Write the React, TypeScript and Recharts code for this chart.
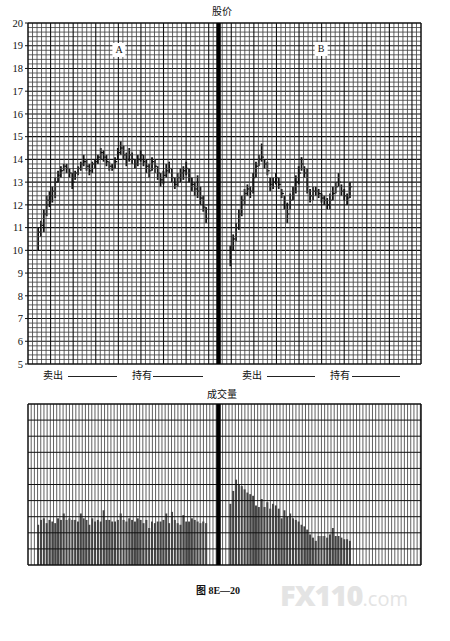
import React from "react";
import { ComposedChart, Bar, XAxis, YAxis, ReferenceLine } from "recharts";

// ---- data ----
const priceTicks = [5, 6, 7, 8, 9, 10, 11, 12, 13, 14, 15, 16, 17, 18, 19, 20];

const highA = [11.0, 11.3, 11.8, 12.4, 12.6, 12.8, 13.2, 13.5, 13.7, 13.8, 13.8, 13.6, 13.4, 13.5, 13.7, 13.9, 14.2, 14.0, 13.8, 13.9, 14.0, 14.2, 14.5, 14.4, 14.2, 13.9, 13.8, 14.1, 14.5, 14.8, 14.6, 14.3, 14.5, 14.3, 14.0, 14.2, 14.4, 14.2, 14.0, 13.8, 14.1, 14.0, 13.7, 13.4, 13.5, 13.8, 13.9, 13.6, 13.2, 13.4, 13.6, 13.7, 13.9, 13.6, 13.2, 13.0, 13.3, 12.8, 12.4, 11.9];
const lowA = [10.0, 10.6, 10.8, 11.5, 11.9, 12.1, 12.3, 13.0, 13.2, 13.5, 13.4, 13.2, 12.7, 13.1, 13.3, 13.5, 13.7, 13.5, 13.3, 13.4, 13.6, 13.8, 14.0, 13.9, 13.7, 13.5, 13.5, 13.6, 14.0, 14.2, 14.0, 13.7, 13.9, 13.8, 13.6, 13.7, 13.9, 13.7, 13.4, 13.2, 13.5, 13.4, 13.1, 12.8, 12.9, 13.2, 13.4, 13.0, 12.7, 12.8, 13.0, 13.1, 13.3, 13.0, 12.6, 12.4, 12.3, 12.0, 11.7, 11.2];
const closeA = [10.8, 11.1, 11.6, 12.2, 12.4, 12.6, 13.0, 13.3, 13.5, 13.7, 13.6, 13.4, 13.0, 13.4, 13.6, 13.8, 13.9, 13.7, 13.5, 13.8, 13.9, 14.1, 14.3, 14.1, 13.9, 13.7, 13.6, 13.9, 14.3, 14.5, 14.2, 14.0, 14.2, 14.0, 13.8, 14.0, 14.2, 13.9, 13.7, 13.5, 13.9, 13.7, 13.4, 13.1, 13.3, 13.5, 13.6, 13.2, 12.9, 13.2, 13.4, 13.5, 13.6, 13.2, 12.9, 12.7, 12.6, 12.3, 11.9, 11.4];

const highB = [10.2, 10.7, 11.2, 11.8, 12.4, 12.7, 12.9, 12.8, 13.4, 13.9, 14.2, 14.7, 14.0, 13.9, 13.2, 13.2, 13.4, 13.2, 12.7, 12.4, 12.1, 12.5, 12.8, 13.3, 13.7, 14.1, 13.7, 13.6, 12.7, 12.8, 12.8, 12.7, 12.5, 12.4, 12.3, 12.5, 12.8, 13.0, 13.4, 12.9, 12.7, 12.5, 13.0];
const lowB = [9.3, 10.0, 10.4, 10.9, 11.5, 12.0, 12.4, 12.3, 12.5, 13.2, 13.7, 13.9, 13.6, 13.3, 12.6, 12.7, 12.9, 12.7, 12.3, 11.8, 11.2, 11.8, 12.2, 12.5, 12.9, 13.5, 13.2, 12.5, 12.1, 12.2, 12.4, 12.3, 12.1, 12.0, 11.8, 11.8, 12.2, 12.5, 12.8, 12.4, 12.2, 12.0, 12.3];
const closeB = [10.0, 10.5, 11.0, 11.6, 12.2, 12.5, 12.7, 12.6, 13.2, 13.7, 14.0, 14.1, 13.8, 13.5, 12.9, 13.0, 13.2, 12.9, 12.5, 12.0, 11.6, 12.2, 12.6, 13.0, 13.4, 13.8, 13.4, 12.8, 12.4, 12.6, 12.6, 12.5, 12.3, 12.2, 12.0, 12.2, 12.5, 12.8, 13.0, 12.6, 12.4, 12.3, 12.8];

const volumeA = [2.5, 2.8, 2.9, 2.6, 2.8, 2.7, 2.6, 2.9, 2.8, 3.2, 2.8, 2.9, 2.8, 2.8, 2.7, 3.2, 2.9, 2.8, 2.5, 2.9, 2.7, 2.8, 2.7, 3.4, 2.8, 2.8, 2.7, 2.7, 2.8, 3.2, 2.8, 2.7, 2.9, 2.8, 2.7, 2.9, 2.8, 2.6, 2.8, 2.3, 2.7, 2.6, 2.7, 2.7, 2.8, 3.2, 2.6, 3.3, 2.8, 2.6, 2.5, 3.1, 2.7, 2.7, 2.9, 2.8, 2.7, 2.6, 2.7, 2.6];
const volumeB = [3.8, 4.6, 5.3, 5.0, 4.9, 4.7, 4.5, 4.4, 4.3, 3.7, 3.6, 4.1, 3.6, 3.9, 3.5, 3.8, 3.7, 3.5, 2.9, 3.4, 3.0, 3.2, 2.9, 2.8, 2.7, 2.5, 2.4, 2.2, 1.9, 1.7, 1.5, 1.8, 1.8, 1.8, 1.7, 1.9, 2.3, 1.8, 1.8, 1.7, 1.6, 1.6, 1.5];

const startA = 3.7;
const startB = 71.2;
const dividerDay = 66.9;
const dayMax = 138;

// ---- tables built from the arrays ----
const priceRows = [
  ...highA.map((h, i) => ({ day: startA + i, high: h, low: lowA[i], close: closeA[i] })),
  ...highB.map((h, i) => ({ day: startB + i, high: h, low: lowB[i], close: closeB[i] })),
];
const volumeRows = [
  ...volumeA.map((v, i) => ({ day: startA + i, vol: v })),
  ...volumeB.map((v, i) => ({ day: startB + i, vol: v })),
];

// grid helpers (paper grid, not data)
const priceHLines: number[] = [];
for (let k = 1; k < 75; k++) priceHLines.push(5 + k * 0.2);
const priceVLines: number[] = [];
for (let k = 1; k < 87; k++) priceVLines.push((k * dayMax) / 87);
const volVLines: number[] = [];
for (let k = 1; k * 1.12 < dayMax; k++) volVLines.push(k * 1.12);
const volHLines = [1, 2, 3, 4, 5, 6, 7, 8, 9];

const PriceBarShape = (props: any) => {
  const { x, y, width, height, payload } = props;
  if (x == null || y == null || !payload) return null;
  const cx = x + width / 2;
  const top = Math.min(y, y + height);
  const h = Math.abs(height);
  const span = payload.high - payload.low;
  const cy = top + (span > 0 ? (payload.high - payload.close) / span : 0.5) * h;
  return (
    <g>
      <line x1={cx} x2={cx} y1={top} y2={top + h} stroke="#111" strokeWidth={1.8} />
      <line x1={cx} x2={cx + 2.3} y1={cy} y2={cy} stroke="#111" strokeWidth={1.3} />
    </g>
  );
};

const cjk = "'Noto Sans CJK SC', 'Noto Sans', sans-serif";
const serif = "'Liberation Serif', 'DejaVu Serif', serif";

const Txt = ({ x, y, children, size = 10, bold = false, color = "#111", font = cjk, bg }: any) => (
  <div
    style={{
      position: "absolute",
      left: x,
      top: y,
      transform: "translate(-50%, -50%)",
      fontFamily: font,
      fontSize: size,
      fontWeight: bold ? 700 : 400,
      color,
      lineHeight: 1,
      whiteSpace: "nowrap",
      background: bg,
      padding: bg ? "2px 3px" : 0,
    }}
  >
    {children}
  </div>
);

const Blank = ({ x1, x2, y }: any) => (
  <div style={{ position: "absolute", left: x1, top: y, width: x2 - x1, borderBottom: "1px solid #222" }} />
);

export default function App() {
  return (
    <div style={{ position: "relative", width: 450, height: 641, background: "#fff", overflow: "hidden" }}>
      <style>{"body{margin:0;background:#fff}"}</style>

      <div style={{ position: "absolute", left: 0, top: 0 }}>
        <ComposedChart width={450} height={380} data={priceRows} margin={{ top: 23, right: 29, bottom: 16, left: 0 }}>
          <XAxis type="number" dataKey="day" domain={[0, dayMax]} hide allowDataOverflow />
          <YAxis
            type="number"
            domain={[5, 20]}
            ticks={priceTicks}
            interval={0}
            width={28}
            tickSize={3}
            tickMargin={2}
            axisLine={false}
            tickLine={{ stroke: "#111" }}
            tick={{ fontFamily: serif, fontSize: 10.5, fill: "#111" }}
            allowDataOverflow
          />
          {priceHLines.map((v, k) => (
            <ReferenceLine
              key={"h" + k}
              y={v}
              stroke={(k + 1) % 5 === 0 ? "#111" : "#444"}
              strokeWidth={(k + 1) % 5 === 0 ? 1.1 : 0.85}
            />
          ))}
          {priceVLines.map((v, k) => (
            <ReferenceLine
              key={"v" + k}
              x={v}
              stroke={(k + 1) % 5 === 0 ? "#111" : "#444"}
              strokeWidth={(k + 1) % 5 === 0 ? 1.1 : 0.85}
            />
          ))}
          <Bar
            dataKey={(d: any) => [d.low, d.high]}
            barSize={2}
            fill="#111"
            shape={PriceBarShape}
            isAnimationActive={false}
          />
          <ReferenceLine x={0} stroke="#111" strokeWidth={1.5} />
          <ReferenceLine x={dayMax} stroke="#111" strokeWidth={1.5} />
          <ReferenceLine y={20} stroke="#111" strokeWidth={1.5} />
          <ReferenceLine y={5} stroke="#111" strokeWidth={1.5} />
          <ReferenceLine x={dividerDay} stroke="#000" strokeWidth={4.5} />
        </ComposedChart>
      </div>

      <div style={{ position: "absolute", left: 0, top: 380 }}>
        <ComposedChart width={450} height={200} data={volumeRows} margin={{ top: 24, right: 29, bottom: 15, left: 28 }}>
          <XAxis type="number" dataKey="day" domain={[0, dayMax]} hide allowDataOverflow />
          <YAxis type="number" domain={[0, 10]} hide width={0} allowDataOverflow />
          {volVLines.map((v, k) => (
            <ReferenceLine key={"vv" + k} x={v} stroke="#444" strokeWidth={0.85} />
          ))}
          {volHLines.map((v, k) => (
            <ReferenceLine key={"vh" + k} y={v} stroke="#111" strokeWidth={1} />
          ))}
          <Bar dataKey="vol" barSize={2} fill="#444" isAnimationActive={false} />
          <ReferenceLine x={0} stroke="#111" strokeWidth={1.5} />
          <ReferenceLine x={dayMax} stroke="#111" strokeWidth={1.5} />
          <ReferenceLine y={10} stroke="#111" strokeWidth={1.5} />
          <ReferenceLine y={0} stroke="#111" strokeWidth={1.5} />
          <ReferenceLine x={dividerDay} stroke="#000" strokeWidth={4.5} />
        </ComposedChart>
      </div>

      <Txt x={222} y={11}>股价</Txt>
      <Txt x={119} y={50} bg="#fff" font={serif} size={10}>A</Txt>
      <Txt x={321} y={49} bg="#fff" font={serif} size={10}>B</Txt>

      <Txt x={53} y={375}>卖出</Txt>
      <Blank x1={68} x2={117} y={376} />
      <Txt x={142} y={375}>持有</Txt>
      <Blank x1={153} x2={203} y={376} />
      <Txt x={252} y={375}>卖出</Txt>
      <Blank x1={267} x2={315} y={376} />
      <Txt x={340} y={375}>持有</Txt>
      <Blank x1={352} x2={400} y={376} />

      <Txt x={222} y={394}>成交量</Txt>

      <Txt x={218} y={590} bold font={serif} size={10}>
        <span style={{ fontFamily: cjk }}>图</span> 8E—20
      </Txt>

      <div
        style={{
          position: "absolute",
          left: 280,
          top: 580,
          fontFamily: "'Open Sans', 'DejaVu Sans', sans-serif",
          color: "#e4e4e4",
          whiteSpace: "nowrap",
          lineHeight: 1,
        }}
      >
        <span style={{ fontSize: 29, fontWeight: 800, letterSpacing: -1 }}>FX110</span>
        <span style={{ fontSize: 20, fontWeight: 400 }}>.com</span>
      </div>
    </div>
  );
}
